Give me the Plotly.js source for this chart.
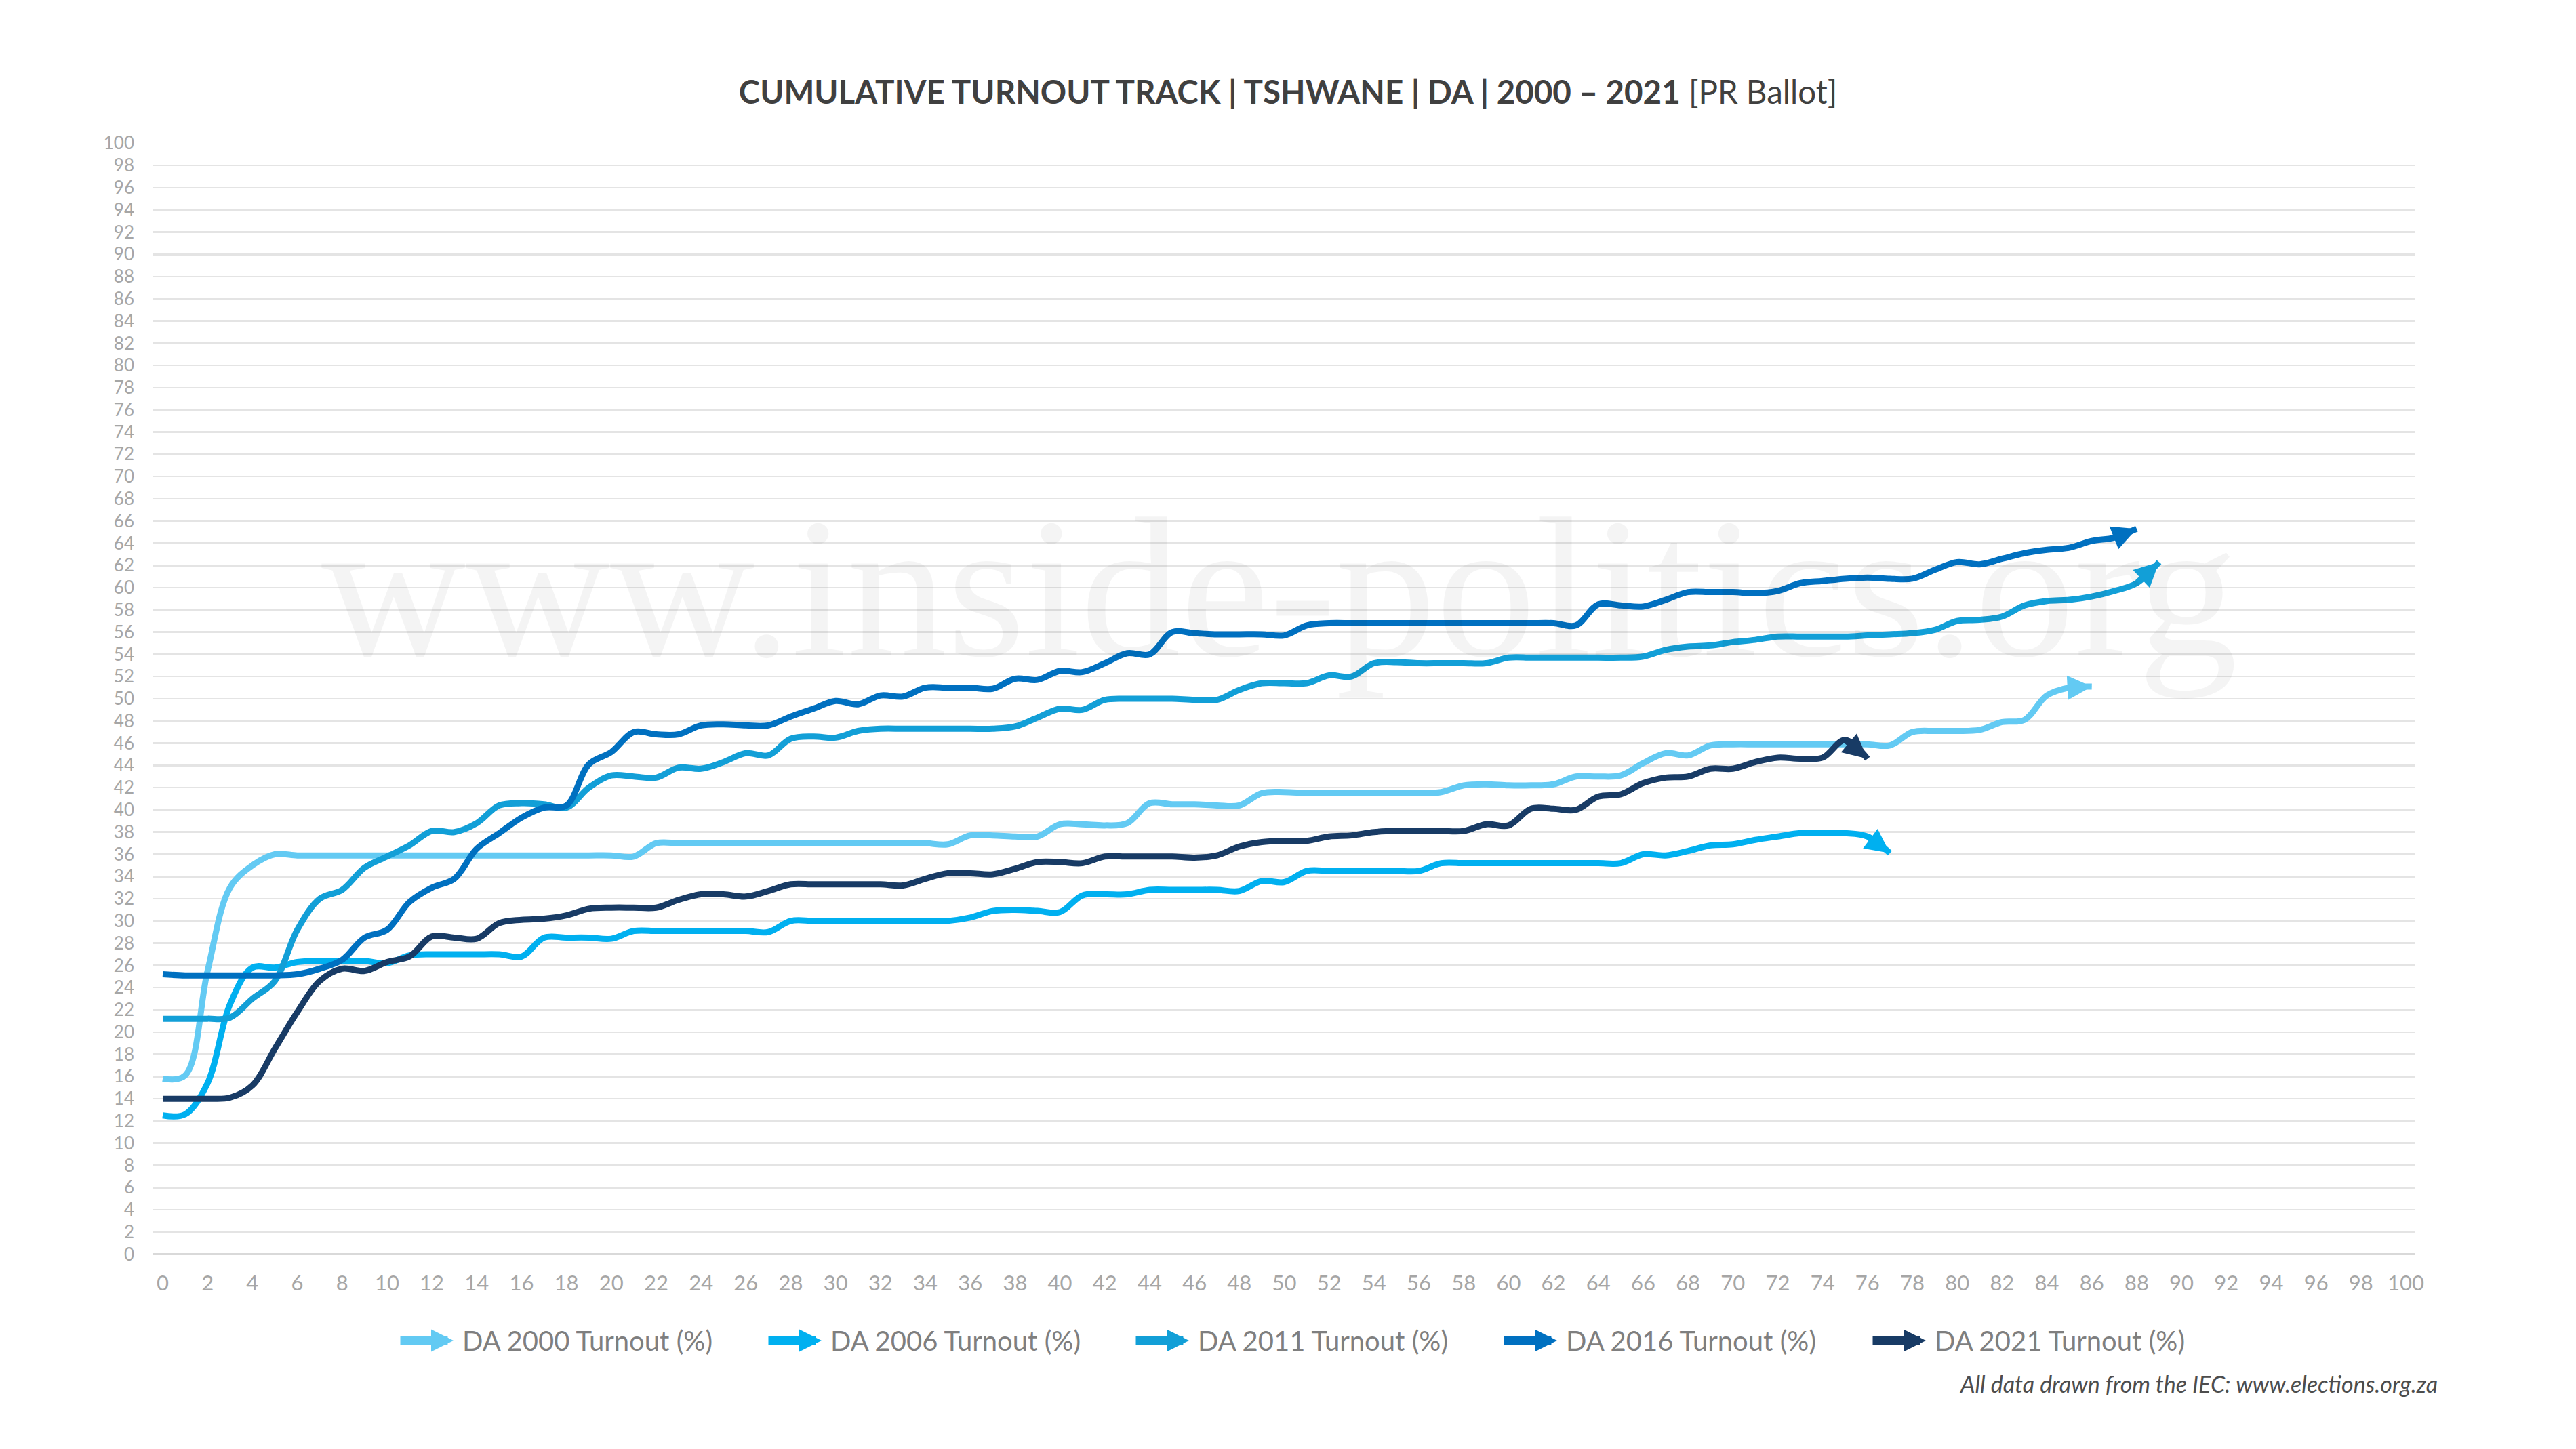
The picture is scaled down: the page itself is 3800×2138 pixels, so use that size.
<!DOCTYPE html>
<html>
<head>
<meta charset="utf-8">
<script src="https://cdn.plot.ly/plotly-3.0.1.min.js"></script>
<style>html,body{margin:0;padding:0;background:#fff;}#chart{width:3800px;height:2138px;}</style>
</head>
<body>
<div id="chart"></div>
<script>
// x positions (share of results captured, %)
const xPositions = [0,1,2,3,4,5,6,7,8,9,10,11,12,13,14,15,16,17,18,19,20,21,22,23,24,25,26,27,28,29,30,31,32,33,34,35,36,37,38,39,40,41,42,43,44,45,46,47,48,49,50,51,52,53,54,55,56,57,58,59,60,61,62,63,64,65,66,67,68,69,70,71,72,73,74,75,76,77,78,79,80,81,82,83,84,85,86,87,88,89];

const seriesNames = ["DA 2000 Turnout (%)", "DA 2006 Turnout (%)", "DA 2011 Turnout (%)", "DA 2016 Turnout (%)", "DA 2021 Turnout (%)"];
const seriesColors = ["#63CAF3", "#00B0F0", "#129FD7", "#0070C0", "#183B65"];

const da2000 = [15.8,16.1,25.5,33.0,35.0,36.0,35.9,35.9,35.9,35.9,
  35.9,35.9,35.9,35.9,35.9,35.9,35.9,35.9,35.9,35.9,
  35.9,35.8,37.0,37.0,37.0,37.0,37.0,37.0,37.0,37.0,
  37.0,37.0,37.0,37.0,37.0,36.9,37.7,37.7,37.6,37.6,
  38.7,38.7,38.6,38.8,40.6,40.5,40.5,40.4,40.4,41.5,
  41.6,41.5,41.5,41.5,41.5,41.5,41.5,41.6,42.2,42.3,
  42.2,42.2,42.3,43.0,43.0,43.1,44.2,45.1,44.9,45.8,
  45.9,45.9,45.9,45.9,45.9,45.9,45.9,45.8,47.0,47.1,
  47.1,47.2,47.9,48.1,50.3,51.0,51.1];

const da2006 = [12.5,12.6,15.4,22.5,25.8,25.8,26.3,26.4,26.4,26.4,
  26.2,26.9,27.0,27.0,27.0,27.0,26.8,28.5,28.5,28.5,
  28.4,29.1,29.1,29.1,29.1,29.1,29.1,29.0,30.0,30.0,
  30.0,30.0,30.0,30.0,30.0,30.0,30.3,30.9,31.0,30.9,
  30.8,32.3,32.4,32.4,32.8,32.8,32.8,32.8,32.7,33.6,
  33.5,34.5,34.5,34.5,34.5,34.5,34.5,35.2,35.2,35.2,
  35.2,35.2,35.2,35.2,35.2,35.2,36.0,35.9,36.3,36.8,
  36.9,37.3,37.6,37.9,37.9,37.9,37.6,36.1];

const da2011 = [21.2,21.2,21.2,21.3,23.0,24.6,29.2,32.0,32.8,34.8,
  35.8,36.8,38.1,38.0,38.8,40.4,40.6,40.5,40.2,42.0,
  43.1,43.0,42.9,43.8,43.7,44.3,45.1,44.9,46.4,46.6,
  46.5,47.1,47.3,47.3,47.3,47.3,47.3,47.3,47.5,48.3,
  49.1,49.0,49.9,50.0,50.0,50.0,49.9,49.9,50.8,51.4,
  51.4,51.4,52.1,52.0,53.2,53.3,53.2,53.2,53.2,53.2,
  53.7,53.7,53.7,53.7,53.7,53.7,53.8,54.4,54.7,54.8,
  55.1,55.3,55.6,55.6,55.6,55.6,55.7,55.8,55.9,56.2,
  57.0,57.1,57.4,58.4,58.8,58.9,59.2,59.7,60.4,62.3];

const da2016 = [25.2,25.1,25.1,25.1,25.1,25.1,25.2,25.7,26.5,28.5,
  29.2,31.7,33.0,33.8,36.5,37.9,39.3,40.2,40.4,44.1,
  45.2,47.0,46.8,46.8,47.6,47.7,47.6,47.6,48.4,49.1,
  49.8,49.5,50.3,50.2,51.0,51.0,51.0,50.9,51.8,51.7,
  52.5,52.4,53.2,54.1,54.0,56.0,55.9,55.8,55.8,55.8,
  55.7,56.6,56.8,56.8,56.8,56.8,56.8,56.8,56.8,56.8,
  56.8,56.8,56.8,56.6,58.5,58.4,58.3,58.9,59.6,59.6,
  59.6,59.5,59.7,60.4,60.6,60.8,60.9,60.8,60.8,61.6,
  62.3,62.1,62.6,63.1,63.4,63.6,64.2,64.5,65.3];

const da2021 = [14.0,14.0,14.0,14.1,15.2,18.5,21.8,24.6,25.7,25.5,
  26.3,26.8,28.6,28.5,28.4,29.8,30.1,30.2,30.5,31.1,
  31.2,31.2,31.2,31.9,32.4,32.4,32.2,32.7,33.3,33.3,
  33.3,33.3,33.3,33.2,33.8,34.3,34.3,34.2,34.7,35.3,
  35.3,35.2,35.8,35.8,35.8,35.8,35.7,35.9,36.7,37.1,
  37.2,37.2,37.6,37.7,38.0,38.1,38.1,38.1,38.1,38.7,
  38.6,40.1,40.1,40.0,41.2,41.4,42.4,42.9,43.0,43.7,
  43.7,44.3,44.7,44.6,44.7,46.3,44.6];

const seriesValues = [da2000, da2006, da2011, da2016, da2021];

const titleText = "CUMULATIVE TURNOUT TRACK | TSHWANE | DA | 2000 \u2013 2021";
const titleSuffix = "[PR Ballot]";
const sourceText = "All data drawn from the IEC: www.elections.org.za";
const watermarkText = "www.inside-politics.org";

// ---- geometry (pixels of the 3800 x 2138 canvas) ----
const W = 3800, H = 2138;
const M = {l: 225, r: 238, t: 211, b: 287};
const plotW = W - M.l - M.r, plotH = H - M.t - M.b;
const px2x = px => (px - M.l) / plotW;
const py2y = py => (H - M.b - py) / plotH;

const traces = [];
const annotations = [];

// watermark (first so it sits underneath the other annotations)
annotations.push({
  xref: 'paper', yref: 'paper', x: px2x(1887), y: py2y(868),
  xanchor: 'center', yanchor: 'middle', showarrow: false,
  text: watermarkText,
  font: {family: 'Liberation Serif, DejaVu Serif, serif', size: 295, color: 'rgba(0,0,0,0.045)'}
});

seriesValues.forEach((vals, i) => {
  const n = vals.length;
  const xs = xPositions.slice(0, n);
  traces.push({
    type: 'scatter',
    mode: 'lines',
    name: seriesNames[i],
    x: xs,
    y: vals,
    line: {color: seriesColors[i], width: 9, shape: 'spline', smoothing: 1, backoff: 14},
    showlegend: false,
    hoverinfo: 'x+y+name'
  });
  // arrow head at the end of each series, pointing along its last step
  annotations.push({
    xref: 'x', yref: 'y', axref: 'x', ayref: 'y',
    x: xs[n - 1], y: vals[n - 1],
    ax: xs[n - 2], ay: vals[n - 2],
    showarrow: true, arrowhead: 2, arrowsize: 0.8, arrowwidth: 9,
    arrowcolor: seriesColors[i], standoff: 0, startstandoff: 0,
    text: '', font: {size: 1}
  });
});

// custom legend: arrow + label
const legendArrowStart = [589, 1132, 1674, 2217, 2761];
seriesNames.forEach((nm, i) => {
  const x0 = legendArrowStart[i];
  annotations.push({
    xref: 'paper', yref: 'paper', x: px2x(x0 + 80), y: py2y(1978),
    ax: -80, ay: 0, axref: 'pixel', ayref: 'pixel',
    showarrow: true, arrowhead: 2, arrowsize: 0.55, arrowwidth: 12,
    arrowcolor: seriesColors[i], standoff: 0, startstandoff: 0,
    text: '', font: {size: 1}
  });
  annotations.push({
    xref: 'paper', yref: 'paper', x: px2x(x0 + 91), y: py2y(1978),
    xanchor: 'left', yanchor: 'middle', showarrow: false,
    text: nm,
    font: {family: 'Lato, Open Sans, sans-serif', size: 40, color: '#7F7F7F'}
  });
});
// source note
annotations.push({
  xref: 'paper', yref: 'paper', x: px2x(3598), y: py2y(2041),
  xanchor: 'right', yanchor: 'middle', showarrow: false,
  text: sourceText,
  font: {family: 'Lato, Open Sans, sans-serif', size: 34, color: '#4D4D4D', style: 'italic'}
});

const layout = {
  width: W, height: H,
  paper_bgcolor: '#ffffff', plot_bgcolor: '#ffffff',
  margin: M,
  showlegend: false,
  font: {family: 'Lato, Open Sans, sans-serif'},
  title: {
    text: '<b>' + titleText + '</b> <span style="font-weight:normal">' + titleSuffix + '</span>',
    font: {family: 'Lato, Open Sans, sans-serif', size: 47.5, color: '#404040'},
    x: 0.5, xref: 'container', xanchor: 'center',
    y: 1 - 136 / H, yref: 'container', yanchor: 'middle'
  },
  xaxis: {
    range: [-0.453, 100.393],
    tickmode: 'linear', tick0: 0, dtick: 2,
    showgrid: false, zeroline: false, showline: false, ticks: '',
    tickfont: {family: 'Lato, Open Sans, sans-serif', size: 31, color: '#A6A6A6'},
    ticklabelstandoff: 21
  },
  yaxis: {
    range: [-0.02, 100.02],
    tickmode: 'linear', tick0: 0, dtick: 2,
    showgrid: true, gridcolor: '#E4E4E4', gridwidth: 2.5,
    zeroline: true, zerolinecolor: '#D9D9D9', zerolinewidth: 3,
    showline: false, ticks: '',
    tickfont: {family: 'Lato, Open Sans, sans-serif', size: 26, color: '#A6A6A6'},
    ticklabelstandoff: 26
  },
  annotations: annotations
};

Plotly.newPlot('chart', traces, layout, {displayModeBar: false, staticPlot: true});
</script>
</body>
</html>
